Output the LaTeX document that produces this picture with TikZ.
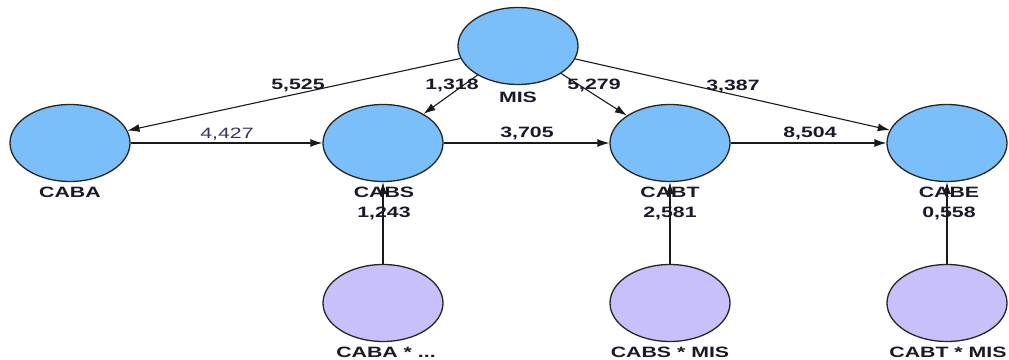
\documentclass[tikz,border=0pt]{standalone}
\usepackage{fontspec}
\setmainfont{Liberation Sans}
\newfontfamily\lblfont{Liberation Sans}[FakeStretch=1.42]
\usetikzlibrary{shapes.geometric,arrows.meta}
\definecolor{latent}{RGB}{122,190,250}
\definecolor{inter}{RGB}{200,192,250}
\definecolor{txt}{RGB}{25,25,40}
\definecolor{plaintxt}{RGB}{60,50,85}
\begin{document}
\begin{tikzpicture}[x=1pt,y=-1pt,
  lv/.style={ellipse,draw=black!85,line width=1.3pt,fill=latent,minimum width=120pt,minimum height=77pt,inner sep=0pt},
  iv/.style={lv,fill=inter},
  lbl/.style={font=\lblfont\fontsize{15}{17}\selectfont\bfseries,text=txt,inner sep=0pt},
  plainlbl/.style={font=\lblfont\fontsize{15}{17}\selectfont,text=plaintxt,inner sep=0pt},
  path/.style={draw=black!90,line width=1.1pt,-{Latex[length=12pt,width=8pt]}}
]
\useasboundingbox (0,0) rectangle (1009,359);
% nodes
\node[lv] (mis) at (518,46) {};
\node[lv] (caba) at (70,143) {};
\node[lv] (cabs) at (383,143) {};
\node[lv] (cabt) at (670,143) {};
\node[lv] (cabe) at (947,143) {};
\node[iv] (i1) at (383,303) {};
\node[iv] (i2) at (670,303) {};
\node[iv] (i3) at (947,303) {};
% connectors
\draw[path] (mis) -- (caba);
\draw[path] (mis) -- (cabs);
\draw[path] (mis) -- (cabt);
\draw[path] (mis) -- (cabe);
\draw[path] (caba) -- (cabs);
\draw[path] (cabs) -- (cabt);
\draw[path] (cabt) -- (cabe);
\draw[path] (i1) -- (cabs);
\draw[path] (i2) -- (cabt);
\draw[path] (i3) -- (cabe);
% names
\node[lbl] (tmis) at (518,97) {MIS};
\node[lbl] (tcaba) at (70,192) {CABA};
\node[lbl] (tcabs) at (384,192) {CABS};
\node[lbl] (tcabt) at (670,192) {CABT};
\node[lbl] (tcabe) at (949,192) {CABE};
\node[lbl] (ti1) at (386,352) {CABA * ...};
\node[lbl] (ti2) at (670,352) {CABS * MIS};
\node[lbl] (ti3) at (948,352) {CABT * MIS};
% coefficients
\node[lbl] (c1) at (298,85) {5,525};
\node[lbl] (c2) at (452,85) {1,318};
\node[lbl] (c3) at (594,85) {5,279};
\node[lbl] (c4) at (733,86) {3,387};
\node[plainlbl] (c5) at (227,134) {4,427};
\node[lbl] (c6) at (527,133) {3,705};
\node[lbl] (c7) at (810,133) {8,504};
\node[lbl] (c8) at (384,213) {1,243};
\node[lbl] (c9) at (670,213) {2,581};
\node[lbl] (c10) at (949,213) {0,558};
\end{tikzpicture}
\end{document}
